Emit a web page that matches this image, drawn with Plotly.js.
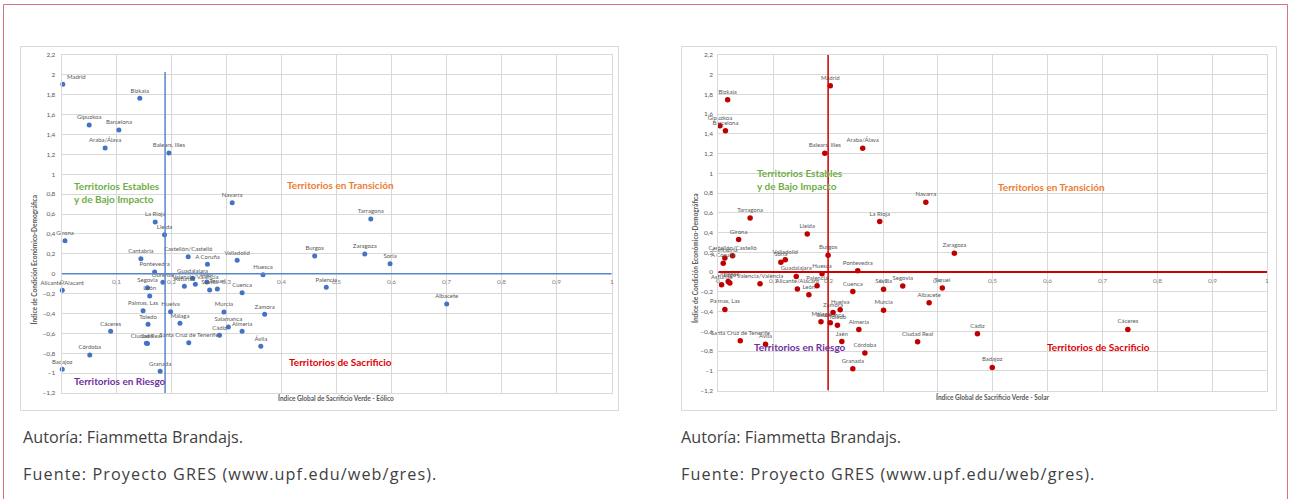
<!DOCTYPE html>
<html>
<head>
<meta charset="utf-8">
<script src="https://cdn.plot.ly/plotly-3.0.1.min.js"></script>
<style>
html,body{margin:0;padding:0;background:#fff;}
#chart{width:1291px;height:499px;}
</style>
</head>
<body>
<div id="chart"></div>
<script>
// ---------- DATA ----------
const eolicoNames = ["Madrid","Bizkaia","Gipuzkoa","Barcelona","Araba/Álava","Balears, Illes","Navarra","La Rioja","Lleida","Girona","Tarragona","Cantabria","Pontevedra","Castellón/Castelló","A Coruña","Valladolid","Huesca","Burgos","Zaragoza","Soria","Ourense","Alicante/Alacant","Segovia","León","Asturias","Guadalajara","Valencia/València","Lugo","Sevilla","Teruel","Cuenca","Palencia","Albacete","Palmas, Las","Huelva","Murcia","Zamora","Málaga","Toledo","Salamanca","Cáceres","Almería","Cádiz","Ciudad Real","Jaén","Santa Cruz de Tenerife","Ávila","Córdoba","Badajoz","Granada"];
const eolicoX = [0.002,0.142,0.050,0.104,0.079,0.195,0.310,0.170,0.187,0.006,0.562,0.144,0.169,0.230,0.265,0.319,0.366,0.460,0.551,0.597,0.184,0.001,0.156,0.160,0.223,0.238,0.243,0.264,0.269,0.283,0.328,0.481,0.700,0.148,0.198,0.295,0.369,0.215,0.157,0.303,0.089,0.328,0.287,0.154,0.156,0.231,0.362,0.051,0.001,0.179];
const eolicoY = [1.905,1.765,1.496,1.446,1.265,1.214,0.714,0.520,0.392,0.332,0.550,0.151,0.017,0.171,0.095,0.135,-0.010,0.178,0.198,0.101,-0.087,-0.167,-0.141,-0.224,-0.127,-0.046,-0.107,-0.083,-0.164,-0.154,-0.191,-0.137,-0.305,-0.372,-0.382,-0.385,-0.408,-0.499,-0.509,-0.536,-0.579,-0.579,-0.620,-0.700,-0.702,-0.694,-0.730,-0.818,-0.962,-0.982];

const solarNames = ["Bizkaia","Madrid","Gipuzkoa","Barcelona","Balears, Illes","Araba/Álava","Navarra","La Rioja","Tarragona","Lleida","Girona","Zaragoza","Castellón/Castelló","Cantabria","A Coruña","Valladolid","Soria","Burgos","Pontevedra","Huesca","Guadalajara","Ourense","Lugo","Asturias","Valencia/València","Alicante/Alacant","Palencia","León","Cuenca","Sevilla","Segovia","Teruel","Albacete","Palmas, Las","Murcia","Huelva","Zamora","Málaga","Salamanca","Toledo","Almería","Jaén","Ciudad Real","Santa Cruz de Tenerife","Ávila","Córdoba","Granada","Cádiz","Cáceres","Badajoz"];
const solarX = [0.017,0.204,0.003,0.013,0.194,0.263,0.378,0.294,0.058,0.162,0.037,0.430,0.026,0.012,0.009,0.122,0.114,0.200,0.254,0.189,0.142,0.018,0.021,0.006,0.076,0.144,0.180,0.165,0.245,0.301,0.336,0.408,0.384,0.012,0.301,0.222,0.209,0.187,0.204,0.217,0.256,0.225,0.363,0.040,0.086,0.267,0.245,0.472,0.746,0.499];
const solarY = [1.747,1.889,1.484,1.433,1.204,1.255,0.708,0.512,0.547,0.385,0.330,0.192,0.165,0.142,0.090,0.125,0.099,0.170,0.013,-0.016,-0.044,-0.095,-0.111,-0.128,-0.119,-0.172,-0.139,-0.229,-0.197,-0.173,-0.142,-0.162,-0.311,-0.378,-0.388,-0.381,-0.409,-0.503,-0.513,-0.540,-0.583,-0.703,-0.705,-0.695,-0.732,-0.820,-0.979,-0.624,-0.581,-0.966];

// reference (mean) lines
const eolicoRefX = 0.188;
const eolicoRefTop = 2.03;
const solarRefX = 0.2;

const xTickVals = [0,0.1,0.2,0.3,0.4,0.5,0.6,0.7,0.8,0.9,1];
const xTickLabels = ["0","0,1","0,2","0,3","0,4","0,5","0,6","0,7","0,8","0,9","1"];

const quadrantLabels = ["Territorios Estables<br>y de Bajo Impacto","Territorios en Transición","Territorios de Sacrificio","Territorios en Riesgo"];
const quadrantColors = ["#70AD47","#ED7D31","#E00000","#7030A0"];

const yTitle = "Índice de Condición Económico-Demográfica";
const xTitleEolico = "Índice Global de Sacrificio Verde - Eólico";
const xTitleSolar = "Índice Global de Sacrificio Verde - Solar";
const credit1 = "Autoría: Fiammetta Brandajs.";
const credit2 = "Fuente: Proyecto GRES (www.upf.edu/web/gres).";

// ---------- LAYOUT HELPERS ----------
const W = 1291, H = 499;
const px = v => v / W;
const py = v => 1 - v / H;
const FONT = "Lato, 'Open Sans', sans-serif";
const CREDIT_FONT = "'Open Sans', 'Noto Sans', sans-serif";
const GRID = "#d9d9d9";
const LBL = "#595959";

// label placement (style only)
const eolicoTextPos = eolicoNames.map(n => n === "Madrid" ? "top right" : "top center");

const traces = [
  {type:"scatter", mode:"markers+text", x:eolicoX, y:eolicoY, text:eolicoNames,
   textposition:eolicoTextPos, textfont:{family:FONT,size:6,color:LBL},
   marker:{color:"#4472C4",size:5}, xaxis:"x", yaxis:"y", hoverinfo:"text", cliponaxis:false},
  {type:"scatter", mode:"markers+text", x:solarX, y:solarY, text:solarNames,
   textposition:"top center", textfont:{family:FONT,size:6,color:LBL},
   marker:{color:"#C00000",size:5.5}, xaxis:"x2", yaxis:"y2", hoverinfo:"text", cliponaxis:false}
];

function xAx(dom, anchor){
  return {domain:dom, anchor:anchor, range:[0,1], dtick:0.1, tick0:0, showgrid:true, gridcolor:GRID, gridwidth:1,
    showticklabels:false, zeroline:false, showline:true, mirror:true, linecolor:GRID, linewidth:1, fixedrange:true};
}
function yAx(dom, anchor, standoff){
  return {domain:dom, anchor:anchor, range:[-1.2,2.2], dtick:0.2, tick0:0, showgrid:true, gridcolor:GRID, gridwidth:1,
    tickfont:{family:FONT,size:6.5,color:LBL}, ticks:"", ticklabelstandoff:standoff, zeroline:false, showline:true, mirror:true,
    linecolor:GRID, linewidth:1, fixedrange:true};
}

const layout = {
  width:W, height:H, margin:{l:0,r:0,t:0,b:0}, paper_bgcolor:"#fff", plot_bgcolor:"#fff",
  showlegend:false, separators:", ", font:{family:FONT},
  xaxis: xAx([px(61.7), px(611.7)], "y"),
  yaxis: yAx([py(393), py(55)], "x", 4),
  xaxis2: xAx([px(718.3), px(1267.3)], "y2"),
  yaxis2: yAx([py(390.5), py(55)], "x2", 3),
  shapes: [], annotations: []
};

// frames
layout.shapes.push({type:"rect", xref:"paper", yref:"paper", x0:px(3.5), x1:px(1287.5), y0:py(540), y1:py(4.5),
  line:{color:"#d6727c", width:1}, fillcolor:"rgba(0,0,0,0)", layer:"below"});
layout.shapes.push({type:"rect", xref:"paper", yref:"paper", x0:px(20.5), x1:px(618.5), y0:py(410.5), y1:py(46.5),
  line:{color:GRID, width:1}, fillcolor:"rgba(0,0,0,0)", layer:"below"});
layout.shapes.push({type:"rect", xref:"paper", yref:"paper", x0:px(681.5), x1:px(1276.5), y0:py(410.5), y1:py(46.5),
  line:{color:GRID, width:1}, fillcolor:"rgba(0,0,0,0)", layer:"below"});

// reference lines
layout.shapes.push({type:"line", xref:"x", yref:"y", x0:eolicoRefX, x1:eolicoRefX, y0:-1.2, y1:eolicoRefTop, line:{color:"#5b86cc", width:1.5}, layer:"above"});
layout.shapes.push({type:"line", xref:"x", yref:"y", x0:0, x1:1, y0:0, y1:0, line:{color:"#5b86cc", width:1.5}, layer:"above"});
layout.shapes.push({type:"line", xref:"x2", yref:"y2", x0:solarRefX, x1:solarRefX, y0:-1.2, y1:2.2, line:{color:"#D00000", width:1.5}, layer:"above"});
layout.shapes.push({type:"line", xref:"x2", yref:"y2", x0:0, x1:1, y0:0, y1:0, line:{color:"#D00000", width:2}, layer:"above"});

// x tick labels along the zero line
[["x","y"],["x2","y2"]].forEach(([xr,yr])=>{
  xTickVals.forEach((v,i)=>{
    layout.annotations.push({xref:xr, yref:yr, x:v, y:0, text:xTickLabels[i], showarrow:false,
      yanchor:"middle", yshift:-8, font:{family:FONT,size:6.5,color:"#7f7f7f"}});
  });
});

// axis titles
function axTitle(x,y,text,angle){
  layout.annotations.push({xref:"paper", yref:"paper", x:px(x), y:py(y), text:"<b>"+text+"</b>", showarrow:false,
    textangle:angle, xanchor:"center", yanchor:"middle", font:{family:FONT,size:6.5,color:LBL}});
}
axTitle(33.5, 260, yTitle, -90);
axTitle(695, 258, yTitle, -90);
axTitle(336, 398, xTitleEolico, 0);
axTitle(993, 397, xTitleSolar, 0);

// quadrant labels
function quad(xr,yr,x,y,i){
  layout.annotations.push({xref:xr, yref:yr, x:x, y:y, text:"<b>"+quadrantLabels[i]+"</b>", showarrow:false,
    xanchor:"left", yanchor:"middle", align:"left", font:{family:FONT,size:10,color:quadrantColors[i]}});
}
quad("x","y",0.018,0.82,0); quad("x","y",0.406,0.89,1); quad("x","y",0.41,-0.89,2); quad("x","y",0.018,-1.08,3);
quad("x2","y2",0.067,0.94,0); quad("x2","y2",0.505,0.86,1); quad("x2","y2",0.595,-0.755,2); quad("x2","y2",0.062,-0.755,3);

// credits
[[21,credit1,437,0],[21,credit2,474,1],[679,credit1,437,0],[679,credit2,474,1]].forEach(([x,t,y,wide])=>{
  layout.annotations.push({xref:"paper", yref:"paper", x:px(x), y:py(y),
    text: wide ? '<span style="letter-spacing:1.1px">'+t+'</span>' : t, showarrow:false,
    xanchor:"left", yanchor:"middle", font:{family:CREDIT_FONT,size:16.2,color:"#3f3f3f"}});
});

Plotly.newPlot("chart", traces, layout, {staticPlot:true, displayModeBar:false});
</script>
</body>
</html>
